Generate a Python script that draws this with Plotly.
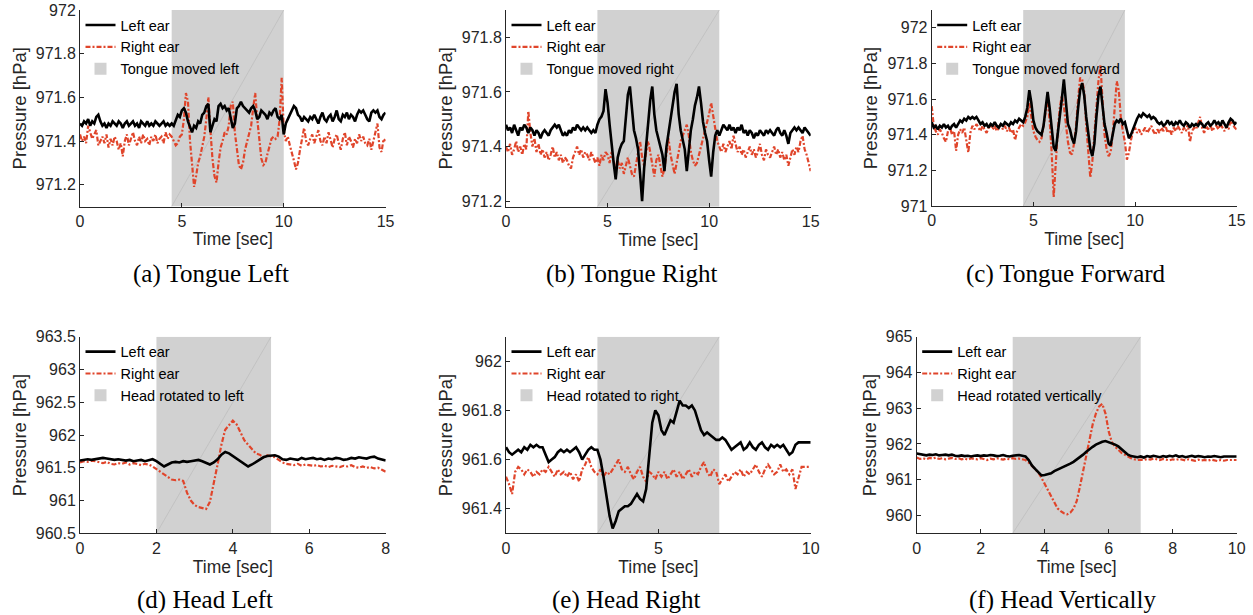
import numpy as np
import plotly.graph_objects as go

# ---------------- data ----------------
# (a) Tongue Left, 0..15 s, 0.1 s steps
a_left = [
    971.48, 971.47, 971.49, 971.48, 971.50, 971.47, 971.49, 971.48, 971.51, 971.52,
    971.49, 971.47, 971.48, 971.46, 971.48, 971.47, 971.49, 971.48, 971.47, 971.49,
    971.48, 971.46, 971.48, 971.49, 971.47, 971.48, 971.49, 971.47, 971.48, 971.46,
    971.49, 971.48, 971.47, 971.49, 971.47, 971.48, 971.47, 971.49, 971.48, 971.47,
    971.48, 971.49, 971.47, 971.48, 971.47, 971.48, 971.47, 971.50, 971.52, 971.51,
    971.54, 971.55, 971.53, 971.49, 971.46, 971.44, 971.47, 971.46, 971.49, 971.48,
    971.52, 971.53, 971.56, 971.57, 971.44, 971.47, 971.50, 971.49, 971.56, 971.57,
    971.55, 971.56, 971.54, 971.55, 971.50, 971.46, 971.48, 971.55, 971.56, 971.58,
    971.56, 971.55, 971.54, 971.53, 971.55, 971.56, 971.54, 971.50, 971.51, 971.54,
    971.53, 971.52, 971.50, 971.53, 971.52, 971.54, 971.55, 971.51, 971.50, 971.52,
    971.43, 971.48, 971.50, 971.52, 971.54, 971.56, 971.55, 971.52, 971.51, 971.49,
    971.51, 971.50, 971.49, 971.51, 971.50, 971.52, 971.50, 971.48, 971.51, 971.53,
    971.50, 971.49, 971.51, 971.52, 971.49, 971.51, 971.54, 971.50, 971.49, 971.52,
    971.51, 971.53, 971.50, 971.52, 971.51, 971.49, 971.52, 971.54, 971.53, 971.54,
    971.52, 971.50, 971.49, 971.53, 971.54, 971.53, 971.54, 971.51, 971.50, 971.52,
    971.53]
a_right = [
    971.43, 971.40, 971.42, 971.39, 971.47, 971.44, 971.41, 971.43, 971.45, 971.38,
    971.40, 971.42, 971.39, 971.43, 971.37, 971.41, 971.38, 971.42, 971.40, 971.36,
    971.39, 971.33, 971.40, 971.43, 971.38, 971.41, 971.44, 971.40, 971.38, 971.42,
    971.39, 971.43, 971.40, 971.41, 971.38, 971.42, 971.40, 971.43, 971.39, 971.41,
    971.42, 971.39, 971.44, 971.41, 971.43, 971.42, 971.40, 971.38, 971.39, 971.42,
    971.43, 971.50, 971.62, 971.58, 971.40, 971.28, 971.19, 971.24, 971.30, 971.33,
    971.38, 971.42, 971.50, 971.60, 971.45, 971.32, 971.24, 971.21, 971.30, 971.37,
    971.40, 971.44, 971.43, 971.47, 971.56, 971.58, 971.44, 971.35, 971.29, 971.27,
    971.30, 971.36, 971.40, 971.43, 971.47, 971.55, 971.62, 971.50, 971.40, 971.32,
    971.29, 971.30, 971.34, 971.38, 971.41, 971.42, 971.41, 971.42, 971.50, 971.69,
    971.45, 971.40, 971.42, 971.38, 971.35, 971.31, 971.27, 971.30, 971.36, 971.41,
    971.46, 971.40, 971.38, 971.41, 971.43, 971.39, 971.42, 971.45, 971.40, 971.38,
    971.42, 971.39, 971.44, 971.40, 971.37, 971.41, 971.43, 971.39, 971.36, 971.41,
    971.44, 971.38, 971.42, 971.40, 971.37, 971.41, 971.39, 971.43, 971.40, 971.42,
    971.39, 971.38, 971.41, 971.36, 971.40, 971.43, 971.48, 971.37, 971.35, 971.41,
    971.40]

# (b) Tongue Right
b_left = [
    971.48, 971.46, 971.47, 971.45, 971.48, 971.46, 971.44, 971.47, 971.46, 971.48,
    971.47, 971.45, 971.47, 971.46, 971.44, 971.46, 971.45, 971.43, 971.45, 971.46,
    971.45, 971.44, 971.46, 971.47, 971.48, 971.47, 971.48, 971.46, 971.44, 971.45,
    971.44, 971.46, 971.45, 971.47, 971.46, 971.48, 971.47, 971.46, 971.47, 971.46,
    971.47, 971.46, 971.45, 971.46, 971.45, 971.48, 971.50, 971.51, 971.53, 971.61,
    971.56, 971.48, 971.40, 971.34, 971.28, 971.36, 971.39, 971.41, 971.42, 971.50,
    971.59, 971.62, 971.55, 971.46, 971.43, 971.39, 971.30, 971.20, 971.32, 971.40,
    971.48, 971.57, 971.62, 971.52, 971.46, 971.43, 971.41, 971.37, 971.31, 971.40,
    971.45, 971.50, 971.55, 971.60, 971.63, 971.52, 971.46, 971.43, 971.39, 971.31,
    971.40, 971.46, 971.50, 971.55, 971.58, 971.62, 971.56, 971.49, 971.45, 971.42,
    971.35, 971.29, 971.38, 971.44, 971.46, 971.44, 971.46, 971.48, 971.47, 971.46,
    971.48, 971.46, 971.47, 971.45, 971.47, 971.46, 971.48, 971.45, 971.46, 971.44,
    971.46, 971.45, 971.43, 971.45, 971.44, 971.46, 971.45, 971.44, 971.46, 971.45,
    971.46, 971.45, 971.44, 971.46, 971.47, 971.45, 971.44, 971.46, 971.44, 971.41,
    971.45, 971.46, 971.47, 971.46, 971.47, 971.46, 971.45, 971.47, 971.46, 971.45,
    971.44]
b_right = [
    971.40, 971.38, 971.41, 971.37, 971.39, 971.42, 971.38, 971.40, 971.37, 971.41,
    971.39, 971.53, 971.45, 971.40, 971.43, 971.38, 971.41, 971.37, 971.39, 971.36,
    971.38, 971.35, 971.37, 971.40, 971.36, 971.38, 971.35, 971.37, 971.34, 971.36,
    971.35, 971.33, 971.32, 971.36, 971.38, 971.40, 971.37, 971.39, 971.36, 971.38,
    971.37, 971.35, 971.38, 971.36, 971.34, 971.36, 971.33, 971.37, 971.35, 971.38,
    971.37, 971.34, 971.38, 971.35, 971.31, 971.35, 971.32, 971.34, 971.30, 971.33,
    971.36, 971.33, 971.30, 971.29, 971.33, 971.38, 971.42, 971.36, 971.33, 971.38,
    971.42, 971.38, 971.33, 971.29, 971.35, 971.37, 971.33, 971.29, 971.32, 971.38,
    971.43, 971.37, 971.33, 971.30, 971.34, 971.38, 971.42, 971.44, 971.46, 971.48,
    971.44, 971.38, 971.35, 971.33, 971.34, 971.37, 971.40, 971.42, 971.45, 971.48,
    971.52, 971.56, 971.51, 971.46, 971.42, 971.40, 971.38, 971.41, 971.38, 971.40,
    971.42, 971.39, 971.44, 971.41, 971.38, 971.40, 971.37, 971.39, 971.36, 971.38,
    971.40, 971.37, 971.39, 971.36, 971.38, 971.41, 971.37, 971.35, 971.39, 971.37,
    971.36, 971.38, 971.40, 971.37, 971.39, 971.36, 971.38, 971.35, 971.37, 971.33,
    971.36, 971.39, 971.37, 971.40, 971.38, 971.42, 971.44, 971.39, 971.37, 971.34,
    971.31]

# (c) Tongue Forward
c_left = [
    971.47, 971.44, 971.45, 971.43, 971.45, 971.44, 971.46, 971.44, 971.45, 971.43,
    971.45, 971.46, 971.44, 971.46, 971.48, 971.47, 971.49, 971.48, 971.50, 971.49,
    971.50, 971.49, 971.50, 971.48, 971.46, 971.47, 971.45, 971.46, 971.44, 971.46,
    971.45, 971.47, 971.45, 971.44, 971.46, 971.45, 971.47, 971.46, 971.45, 971.47,
    971.46, 971.48, 971.47, 971.49, 971.48, 971.47, 971.50, 971.55, 971.65, 971.58,
    971.48, 971.44, 971.42, 971.41, 971.40, 971.45, 971.55, 971.64, 971.55, 971.42,
    971.33, 971.31, 971.40, 971.50, 971.60, 971.71, 971.56, 971.46, 971.43, 971.38,
    971.35, 971.42, 971.55, 971.65, 971.69, 971.62, 971.50, 971.40, 971.32, 971.28,
    971.35, 971.50, 971.62, 971.67, 971.58, 971.46, 971.41, 971.35, 971.34, 971.40,
    971.46, 971.48, 971.47, 971.49, 971.46, 971.47, 971.43, 971.38, 971.40, 971.43,
    971.47, 971.49, 971.51, 971.50, 971.52, 971.51, 971.50, 971.51, 971.49, 971.50,
    971.49, 971.47, 971.46, 971.47, 971.45, 971.46, 971.48, 971.46, 971.47, 971.45,
    971.47, 971.46, 971.48, 971.46, 971.45, 971.47, 971.46, 971.44, 971.46, 971.45,
    971.46, 971.45, 971.47, 971.46, 971.44, 971.46, 971.47, 971.45, 971.46, 971.48,
    971.46, 971.47, 971.45, 971.48, 971.46, 971.44, 971.47, 971.49, 971.48, 971.46,
    971.47]
c_right = [
    971.56, 971.45, 971.42, 971.40, 971.43, 971.41, 971.38, 971.36, 971.42, 971.44,
    971.40, 971.42, 971.31, 971.40, 971.43, 971.41, 971.44, 971.38, 971.30, 971.41,
    971.45, 971.43, 971.46, 971.44, 971.42, 971.45, 971.43, 971.41, 971.44, 971.46,
    971.43, 971.45, 971.42, 971.44, 971.46, 971.43, 971.45, 971.42, 971.44, 971.41,
    971.43, 971.37, 971.42, 971.44, 971.46, 971.45, 971.47, 971.50, 971.58, 971.50,
    971.42, 971.39, 971.37, 971.36, 971.38, 971.45, 971.52, 971.60, 971.48, 971.30,
    971.05, 971.25, 971.42, 971.55, 971.62, 971.56, 971.45, 971.36, 971.30, 971.29,
    971.35, 971.45, 971.60, 971.72, 971.71, 971.64, 971.45, 971.30, 971.16, 971.25,
    971.40, 971.55, 971.70, 971.79, 971.58, 971.40, 971.32, 971.28, 971.30, 971.40,
    971.55, 971.70, 971.65, 971.50, 971.42, 971.36, 971.26, 971.30, 971.37, 971.42,
    971.44, 971.41, 971.43, 971.40, 971.42, 971.44, 971.41, 971.43, 971.45, 971.42,
    971.40, 971.43, 971.41, 971.44, 971.42, 971.45, 971.41, 971.43, 971.40, 971.44,
    971.42, 971.45, 971.43, 971.41, 971.44, 971.42, 971.46, 971.36, 971.42, 971.44,
    971.43, 971.46, 971.50, 971.44, 971.41, 971.45, 971.43, 971.46, 971.42, 971.44,
    971.45, 971.43, 971.46, 971.44, 971.42, 971.45, 971.43, 971.48, 971.46, 971.44,
    971.43]

# (d) Head Left, 0..8 s
d_left = [
    961.61, 961.62, 961.63, 961.62, 961.63, 961.64, 961.65, 961.64, 961.63, 961.62,
    961.63, 961.62, 961.61, 961.62, 961.60, 961.61, 961.62, 961.60, 961.61, 961.63,
    961.60, 961.56, 961.52, 961.55, 961.58, 961.59, 961.58, 961.60, 961.59, 961.60,
    961.61, 961.62, 961.60, 961.58, 961.55, 961.58, 961.63, 961.70, 961.74, 961.72,
    961.68, 961.64, 961.60, 961.57, 961.52, 961.55, 961.59, 961.63, 961.66, 961.68,
    961.68, 961.69, 961.67, 961.63, 961.62, 961.64, 961.63, 961.62, 961.65, 961.63,
    961.64, 961.65, 961.63, 961.64, 961.62, 961.64, 961.63, 961.65, 961.64, 961.62,
    961.63, 961.65, 961.64, 961.66, 961.65, 961.64, 961.66, 961.67, 961.64, 961.62,
    961.61]
d_right = [
    961.58, 961.60, 961.59, 961.61, 961.60, 961.58, 961.57, 961.59, 961.56, 961.55,
    961.57, 961.56, 961.58, 961.55, 961.57, 961.56, 961.54, 961.56, 961.55, 961.52,
    961.48, 961.44, 961.41, 961.37, 961.32, 961.31, 961.32, 961.30, 961.12, 961.00,
    960.93, 960.90, 960.88, 960.87, 960.98, 961.25, 961.55, 961.85, 962.08, 962.15,
    962.22, 962.16, 962.05, 961.92, 961.85, 961.78, 961.72, 961.70, 961.66, 961.69,
    961.68, 961.66, 961.62, 961.58, 961.56, 961.55, 961.54, 961.56, 961.53, 961.55,
    961.54, 961.53, 961.54, 961.52, 961.53, 961.51, 961.53, 961.52, 961.51, 961.53,
    961.52, 961.54, 961.51, 961.50, 961.52, 961.50, 961.51, 961.49, 961.50, 961.47,
    961.44]

# (e) Head Right, 0..10 s
e_left = [
    961.65, 961.63, 961.62, 961.63, 961.64, 961.63, 961.65, 961.64, 961.66, 961.65,
    961.66, 961.65, 961.65, 961.62, 961.59, 961.60, 961.61, 961.63, 961.64, 961.63,
    961.64, 961.63, 961.64, 961.65, 961.63, 961.60, 961.62, 961.64, 961.65, 961.64,
    961.64, 961.60, 961.53, 961.45, 961.37, 961.32, 961.35, 961.39, 961.40, 961.41,
    961.41, 961.42, 961.44, 961.46, 961.44, 961.43, 961.48, 961.62, 961.75, 961.80,
    961.78, 961.72, 961.70, 961.73, 961.76, 961.75, 961.79, 961.84, 961.82, 961.82,
    961.81, 961.82, 961.80, 961.76, 961.72, 961.70, 961.71, 961.70, 961.69, 961.68,
    961.68, 961.69, 961.68, 961.66, 961.64, 961.65, 961.66, 961.67, 961.64, 961.65,
    961.67, 961.65, 961.64, 961.66, 961.67, 961.65, 961.64, 961.66, 961.65, 961.66,
    961.65, 961.66, 961.64, 961.62, 961.63, 961.66, 961.67, 961.67, 961.67, 961.67,
    961.67]
e_right = [
    961.53, 961.50, 961.46, 961.55, 961.57, 961.56, 961.54, 961.56, 961.55, 961.53,
    961.55, 961.54, 961.56, 961.55, 961.57, 961.55, 961.53, 961.56, 961.54, 961.55,
    961.53, 961.55, 961.52, 961.54, 961.51, 961.56, 961.58, 961.61, 961.57, 961.55,
    961.54, 961.56, 961.53, 961.55, 961.54, 961.56, 961.58, 961.60, 961.56, 961.55,
    961.57, 961.54, 961.52, 961.55, 961.57, 961.53, 961.51, 961.55, 961.54, 961.52,
    961.55, 961.53, 961.55, 961.52, 961.54, 961.56, 961.53, 961.55, 961.52, 961.54,
    961.56, 961.53, 961.55, 961.54, 961.57, 961.59, 961.55, 961.53, 961.56, 961.55,
    961.50, 961.52, 961.54, 961.51, 961.53, 961.55, 961.54, 961.56, 961.53, 961.55,
    961.54, 961.56, 961.58, 961.55, 961.53, 961.56, 961.58, 961.56, 961.54, 961.55,
    961.58, 961.55, 961.56, 961.54, 961.56, 961.48, 961.53, 961.57, 961.57, 961.57,
    961.57]

# (f) Head Vertically, 0..10 s
f_left = [
    961.73, 961.72, 961.70, 961.68, 961.70, 961.69, 961.71, 961.68, 961.69, 961.70,
    961.68, 961.70, 961.67, 961.66, 961.68, 961.66, 961.67, 961.65, 961.67, 961.68,
    961.66, 961.68, 961.67, 961.69, 961.68, 961.66, 961.67, 961.69, 961.66, 961.65,
    961.67, 961.68, 961.69, 961.67, 961.65, 961.55, 961.40, 961.30, 961.22, 961.12,
    961.13, 961.15, 961.18, 961.24, 961.28, 961.31, 961.35, 961.40, 961.45, 961.50,
    961.56, 961.63, 961.70, 961.78, 961.86, 961.92, 961.98, 962.03, 962.06, 962.08,
    962.05, 962.00, 961.98, 961.93, 961.85, 961.77, 961.70, 961.66, 961.64, 961.63,
    961.65, 961.62, 961.66, 961.64, 961.67, 961.65, 961.63, 961.66, 961.64, 961.67,
    961.65, 961.68, 961.64, 961.66, 961.63, 961.65, 961.67, 961.64, 961.66, 961.65,
    961.63, 961.65, 961.64, 961.66, 961.65, 961.63, 961.65, 961.64, 961.65, 961.65,
    961.65]
f_right = [
    961.62, 961.58, 961.60, 961.57, 961.61, 961.59, 961.62, 961.58, 961.60, 961.57,
    961.59, 961.61, 961.58, 961.60, 961.57, 961.59, 961.56, 961.60, 961.58, 961.57,
    961.60, 961.58, 961.55, 961.59, 961.57, 961.60, 961.58, 961.56, 961.59, 961.57,
    961.60, 961.58, 961.59, 961.57, 961.55, 961.48, 961.38, 961.28, 961.20, 961.05,
    960.88, 960.70, 960.50, 960.33, 960.20, 960.12, 960.06, 960.03, 960.08, 960.19,
    960.40, 960.80, 961.25, 961.70, 962.15, 962.55, 962.85, 963.05, 963.12, 962.85,
    962.35, 962.05, 961.92, 961.82, 961.75, 961.70, 961.64, 961.60, 961.57, 961.55,
    961.56, 961.55, 961.58, 961.56, 961.59, 961.57, 961.55, 961.58, 961.56, 961.54,
    961.57, 961.55, 961.58, 961.56, 961.54, 961.57, 961.55, 961.53, 961.56, 961.54,
    961.55, 961.53, 961.56, 961.54, 961.52, 961.55, 961.53, 961.55, 961.54, 961.55,
    961.55]

durations = [15, 15, 15, 8, 10, 10]
left_series = [a_left, b_left, c_left, d_left, e_left, f_left]
right_series = [a_right, b_right, c_right, d_right, e_right, f_right]
band_start = [4.5, 4.5, 4.5, 2, 3, 3]
band_end = [10, 10.5, 9.5, 5, 7, 7]
band_labels = ["Tongue moved left", "Tongue moved right", "Tongue moved forward",
               "Head rotated to left", "Head rotated to right", "Head rotated vertically"]
captions = ["(a) Tongue Left", "(b) Tongue Right", "(c) Tongue Forward",
            "(d) Head Left", "(e) Head Right", "(f) Head Vertically"]
y_ranges = [[971.1, 972.0], [971.18, 971.9], [971.0, 972.1],
            [960.5, 963.5], [961.3, 962.1], [959.5, 965.0]]
y_ticks = [[971.2, 971.4, 971.6, 971.8, 972.0],
           [971.2, 971.4, 971.6, 971.8],
           [971.0, 971.2, 971.4, 971.6, 971.8, 972.0],
           [960.5, 961.0, 961.5, 962.0, 962.5, 963.0, 963.5],
           [961.4, 961.6, 961.8, 962.0],
           [960, 961, 962, 963, 964, 965]]
y_ticktext = [["971.2", "971.4", "971.6", "971.8", "972"],
              ["971.2", "971.4", "971.6", "971.8"],
              ["971", "971.2", "971.4", "971.6", "971.8", "972"],
              ["960.5", "961", "961.5", "962", "962.5", "963", "963.5"],
              ["961.4", "961.6", "961.8", "962"],
              ["960", "961", "962", "963", "964", "965"]]
x_ticks = [[0, 5, 10, 15], [0, 5, 10, 15], [0, 5, 10, 15],
           [0, 2, 4, 6, 8], [0, 5, 10], [0, 2, 4, 6, 8, 10]]

# ---------------- layout geometry (pixels) ----------------
W, H = 1253, 615
px_x = [(80, 385.6), (506, 810.7), (931.7, 1236.7), (80, 385.7), (506, 810.7), (916.7, 1236.7)]
px_y = [(10, 206.5), (10, 206.7), (10, 206), (336.7, 533.3), (336.7, 533.3), (336.7, 533.3)]
caption_x = [211, 631, 1066, 205, 626, 1062]
caption_y = [274, 274, 274, 600, 600, 600]

BLACK = "#000000"
RED = "#e0452b"
GRAY = "#d1d1d1"
AX = "#262626"
SANS = "Liberation Sans, Arial, Helvetica, sans-serif"
SERIF = "Liberation Serif, Times New Roman, serif"

fig = go.Figure()
layout = dict(template="none", width=W, height=H, margin=dict(l=0, r=0, t=0, b=0, autoexpand=False),
              paper_bgcolor="white", plot_bgcolor="white", showlegend=True,
              annotations=[])

for i in range(6):
    k = "" if i == 0 else str(i + 1)
    xa, ya = "x" + k, "y" + k
    lg = "legend" + k
    n = len(left_series[i])
    t = np.linspace(0, durations[i], n)
    y0, y1 = y_ranges[i]

    # event band
    fig.add_trace(go.Bar(x=[(band_start[i] + band_end[i]) / 2], y=[y1 - y0], base=[y0],
                         width=[band_end[i] - band_start[i]], marker=dict(color=GRAY, line=dict(width=0)),
                         name=band_labels[i], xaxis=xa, yaxis=ya, legend=lg, legendrank=3,
                         hoverinfo="skip"))
    # faint diagonal of the patch
    fig.add_trace(go.Scatter(x=[band_start[i], band_end[i]], y=[y0, y1], mode="lines",
                             line=dict(color="#bcbcbc", width=0.7), showlegend=False,
                             xaxis=xa, yaxis=ya, hoverinfo="skip"))
    fig.add_trace(go.Scatter(x=t, y=right_series[i], mode="lines", name="Right ear",
                             line=dict(color=RED, width=2.2, dash="5px,2px,2px,2px"),
                             xaxis=xa, yaxis=ya, legend=lg, legendrank=2))
    fig.add_trace(go.Scatter(x=t, y=left_series[i], mode="lines", name="Left ear",
                             line=dict(color=BLACK, width=2.6),
                             xaxis=xa, yaxis=ya, legend=lg, legendrank=1))

    x0p, x1p = px_x[i]
    yt, yb = px_y[i]
    layout["xaxis" + k] = dict(
        domain=[x0p / W, x1p / W], anchor=ya, range=[0, durations[i]], automargin=False,
        tickvals=x_ticks[i], ticktext=[str(v) for v in x_ticks[i]],
        showline=True, linecolor=AX, linewidth=1, ticks="inside", ticklen=4,
        tickcolor=AX, showgrid=False, zeroline=False,
        tickfont=dict(family=SANS, size=16, color=AX),
        title=dict(text="Time [sec]", font=dict(family=SANS, size=17.5, color=AX), standoff=4))
    layout["yaxis" + k] = dict(
        domain=[1 - yb / H, 1 - yt / H], anchor=xa, range=[y0, y1], automargin=False,
        tickvals=y_ticks[i], ticktext=y_ticktext[i],
        showline=True, linecolor=AX, linewidth=1, ticks="inside", ticklen=4,
        tickcolor=AX, showgrid=False, zeroline=False,
        tickfont=dict(family=SANS, size=16, color=AX),
        title=dict(text="Pressure [hPa]", font=dict(family=SANS, size=18.5, color=AX), standoff=4))
    layout[lg] = dict(x=(x0p + 0.5) / W, y=1 - (yt - 1) / H, xanchor="left", yanchor="top",
                      bgcolor="rgba(0,0,0,0)", borderwidth=0, traceorder="normal",
                      font=dict(family=SANS, size=14.5, color="#000000"), itemwidth=30,
                      tracegroupgap=0)
    layout["annotations"].append(dict(
        text=captions[i], x=caption_x[i] / W, y=1 - caption_y[i] / H, xref="paper", yref="paper",
        xanchor="center", yanchor="middle", showarrow=False,
        font=dict(family=SERIF, size=25, color="#000000")))

fig.update_layout(**layout)
fig.write_html("out.html")
